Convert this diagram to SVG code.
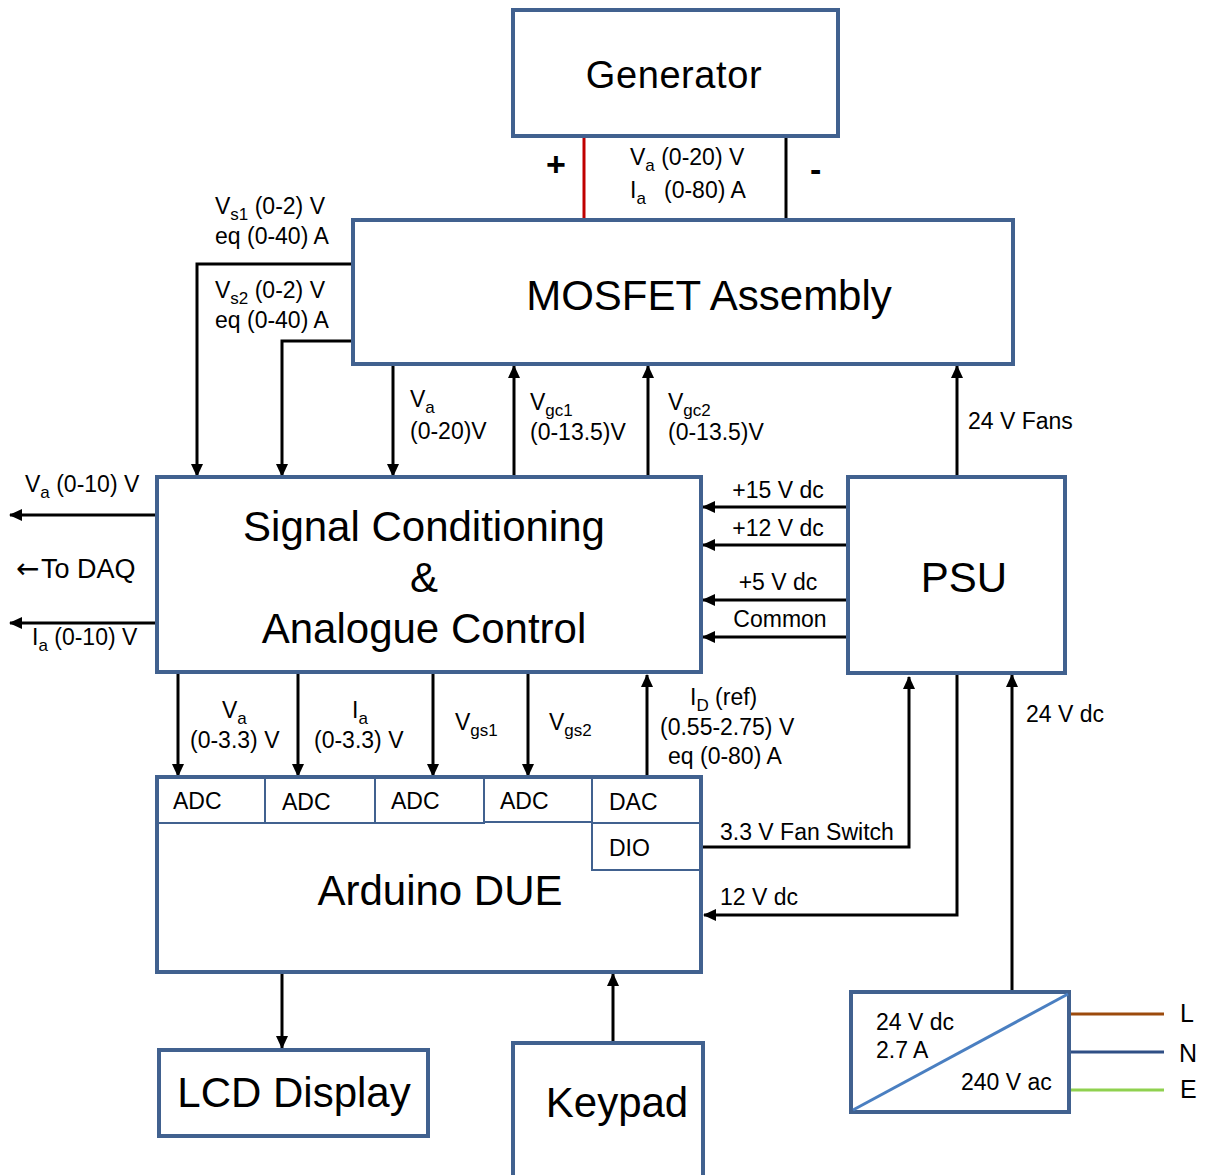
<svg xmlns="http://www.w3.org/2000/svg" width="1209" height="1175" viewBox="0 0 1209 1175">
<style>
.box{fill:#fff;stroke:#41618f;stroke-width:4}
.cell{fill:#fff;stroke:#41618f;stroke-width:2}
.w{fill:none;stroke:#000;stroke-width:3}
.a{fill:none;stroke:#000;stroke-width:3;marker-end:url(#ah)}
text{font-family:"Liberation Sans",Arial,sans-serif;fill:#000}
.big{font-size:42px;text-anchor:middle}
.s{font-size:23px}
.sub{font-size:17px}
</style>
<defs>
<marker id="ah" markerUnits="userSpaceOnUse" markerWidth="14" markerHeight="14" viewBox="0 0 14 14" refX="12" refY="7" orient="auto">
<path d="M0,1 L13,7 L0,13 Z" fill="#000"/>
</marker>
</defs>
<g id="connectors">
<line x1="584" y1="136" x2="584" y2="220" stroke="#c00000" stroke-width="3"/>
<line class="w" x1="786" y1="136" x2="786" y2="220"/>
<polyline class="a" points="358,264 197,264 197,476"/>
<polyline class="a" points="355,341 282,341 282,476"/>
<line class="a" x1="393" y1="364" x2="393" y2="476"/>
<line class="a" x1="514" y1="477" x2="514" y2="366"/>
<line class="a" x1="648" y1="477" x2="648" y2="366"/>
<line class="a" x1="957" y1="477" x2="957" y2="366"/>
<line class="a" x1="157" y1="515" x2="10" y2="515"/>
<line class="a" x1="157" y1="623" x2="10" y2="623"/>
<line class="a" x1="848" y1="507" x2="703" y2="507"/>
<line class="a" x1="848" y1="545" x2="703" y2="545"/>
<line class="a" x1="848" y1="600" x2="703" y2="600"/>
<line class="a" x1="848" y1="637" x2="703" y2="637"/>
<line class="a" x1="178" y1="673" x2="178" y2="776"/>
<line class="a" x1="298" y1="673" x2="298" y2="776"/>
<line class="a" x1="433" y1="673" x2="433" y2="776"/>
<line class="a" x1="528" y1="673" x2="528" y2="776"/>
<line class="a" x1="647" y1="777" x2="647" y2="675"/>
<polyline class="a" points="701,847 909,847 909,677"/>
<polyline class="a" points="957,673 957,915 704,915"/>
<line class="a" x1="1012" y1="992" x2="1012" y2="675"/>
<line class="a" x1="282" y1="972" x2="282" y2="1048"/>
<line class="a" x1="613" y1="1043" x2="613" y2="974"/>
<line x1="1069" y1="1014" x2="1164" y2="1014" stroke="#9c4a0c" stroke-width="3"/>
<line x1="1069" y1="1052" x2="1164" y2="1052" stroke="#2f4f85" stroke-width="3"/>
<line x1="1069" y1="1090" x2="1164" y2="1090" stroke="#8fd14f" stroke-width="3"/>
</g>
<g id="labels">
<text x="546" y="176" style="font-size:34px;font-weight:bold">+</text>
<text x="810" y="181" style="font-size:34px;font-weight:bold">-</text>
<text x="630" y="165" class="s">V<tspan class="sub" dy="6">a</tspan><tspan dy="-6"> (0-20) V</tspan></text>
<text x="630" y="198" class="s">I<tspan class="sub" dy="6">a</tspan></text>
<text x="664" y="198" class="s">(0-80) A</text>
<text x="215" y="214" class="s">V<tspan class="sub" dy="6">s1</tspan><tspan dy="-6"> (0-2) V</tspan></text>
<text x="215" y="244" class="s">eq (0-40) A</text>
<text x="215" y="298" class="s">V<tspan class="sub" dy="6">s2</tspan><tspan dy="-6"> (0-2) V</tspan></text>
<text x="215" y="328" class="s">eq (0-40) A</text>
<text x="410" y="407" class="s">V<tspan class="sub" dy="6">a</tspan></text>
<text x="410" y="439" class="s">(0-20)V</text>
<text x="530" y="410" class="s">V<tspan class="sub" dy="6">gc1</tspan></text>
<text x="530" y="440" class="s">(0-13.5)V</text>
<text x="668" y="410" class="s">V<tspan class="sub" dy="6">gc2</tspan></text>
<text x="668" y="440" class="s">(0-13.5)V</text>
<text x="968" y="429" class="s">24 V Fans</text>
<text x="25" y="492" class="s">V<tspan class="sub" dy="6">a</tspan><tspan dy="-6"> (0-10) V</tspan></text>
<text x="16" y="578" style="font-size:27px"><tspan style="font-family:'DejaVu Sans',sans-serif;font-size:28px">←</tspan><tspan x="41">To DAQ</tspan></text>
<text x="32" y="645" class="s">I<tspan class="sub" dy="6">a</tspan><tspan dy="-6"> (0-10) V</tspan></text>
<text x="778" y="498" class="s" text-anchor="middle">+15 V dc</text>
<text x="778" y="536" class="s" text-anchor="middle">+12 V dc</text>
<text x="778" y="590" class="s" text-anchor="middle">+5 V dc</text>
<text x="780" y="627" class="s" text-anchor="middle">Common</text>
<text x="222" y="718" class="s">V<tspan class="sub" dy="6">a</tspan></text>
<text x="190" y="748" class="s">(0-3.3) V</text>
<text x="352" y="718" class="s">I<tspan class="sub" dy="6">a</tspan></text>
<text x="314" y="748" class="s">(0-3.3) V</text>
<text x="455" y="730" class="s">V<tspan class="sub" dy="6">gs1</tspan></text>
<text x="549" y="730" class="s">V<tspan class="sub" dy="6">gs2</tspan></text>
<text x="690" y="705" class="s">I<tspan class="sub" dy="6">D</tspan><tspan dy="-6"> (ref)</tspan></text>
<text x="660" y="735" class="s">(0.55-2.75) V</text>
<text x="668" y="764" class="s">eq (0-80) A</text>
<text x="720" y="840" class="s">3.3 V Fan Switch</text>
<text x="720" y="905" class="s">12 V dc</text>
<text x="1026" y="722" class="s">24 V dc</text>
<text x="1180" y="1022" style="font-size:25px">L</text>
<text x="1179" y="1062" style="font-size:25px">N</text>
<text x="1180" y="1098" style="font-size:25px">E</text>
</g>
<g id="generator">
<rect class="box" x="513" y="10" width="325" height="126"/>
<text x="674" y="88" style="font-size:38px;letter-spacing:0.6px;text-anchor:middle">Generator</text>
</g>
<g id="mosfet">
<rect class="box" x="353" y="220" width="660" height="144"/>
<text x="709" y="310" class="big">MOSFET Assembly</text>
</g>
<g id="signal">
<rect class="box" x="157" y="477" width="544" height="195"/>
<text x="424" y="541" class="big">Signal Conditioning</text>
<text x="424" y="592" class="big">&amp;</text>
<text x="424" y="643" class="big">Analogue Control</text>
</g>
<g id="psu">
<rect class="box" x="848" y="477" width="217" height="196"/>
<text x="964" y="592" class="big">PSU</text>
</g>
<g id="arduino">
<rect class="box" x="157" y="777" width="544" height="195"/>
<rect class="cell" x="157" y="777" width="108" height="46"/>
<rect class="cell" x="265" y="777" width="110" height="46"/>
<rect class="cell" x="375" y="777" width="109" height="46"/>
<rect class="cell" x="484" y="777" width="108" height="45"/>
<rect class="cell" x="592" y="777" width="109" height="46"/>
<rect class="cell" x="592" y="823" width="109" height="47"/>
<rect x="157" y="777" width="544" height="195" fill="none" stroke="#41618f" stroke-width="4"/>
<text x="173" y="809" class="s">ADC</text>
<text x="282" y="810" class="s">ADC</text>
<text x="391" y="809" class="s">ADC</text>
<text x="500" y="809" class="s">ADC</text>
<text x="609" y="810" class="s">DAC</text>
<text x="609" y="856" class="s">DIO</text>
<text x="440" y="905" class="big">Arduino DUE</text>
</g>
<g id="converter">
<rect class="box" x="851" y="992" width="218" height="120"/>
<line x1="853" y1="1110" x2="1068" y2="994" stroke="#4a7fc1" stroke-width="3"/>
<text x="876" y="1030" class="s">24 V dc</text>
<text x="876" y="1058" class="s">2.7 A</text>
<text x="961" y="1090" class="s">240 V ac</text>
</g>
<g id="lcd">
<rect class="box" x="159" y="1050" width="269" height="86"/>
<text x="294" y="1107" class="big">LCD Display</text>
</g>
<g id="keypad">
<rect class="box" x="513" y="1043" width="190" height="150"/>
<text x="617" y="1117" class="big">Keypad</text>
</g>
</svg>
